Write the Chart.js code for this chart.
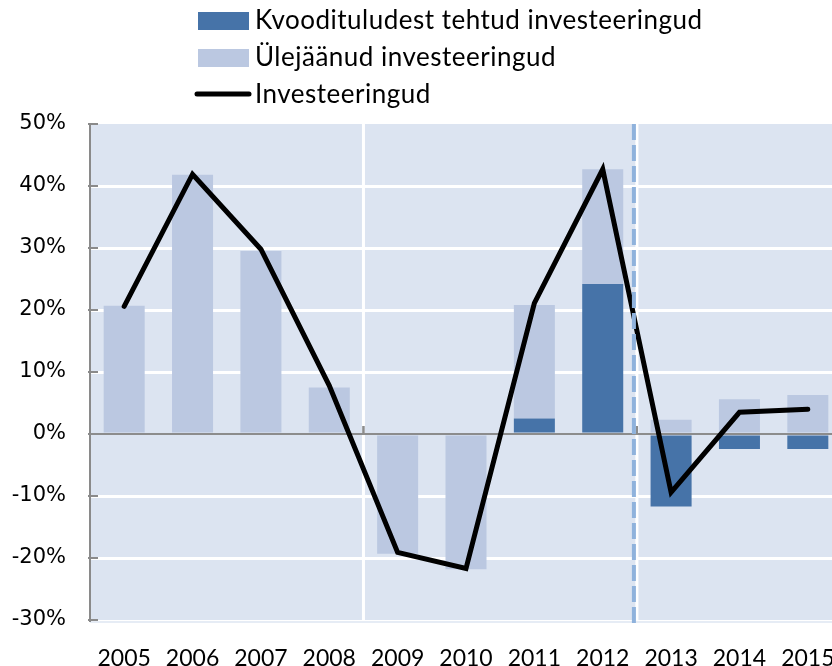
<!DOCTYPE html>
<html>
<head>
<meta charset="utf-8">
<script src="https://cdn.jsdelivr.net/npm/chart.js@4.4.1/dist/chart.umd.min.js"></script>
<style>
  html, body { margin: 0; padding: 0; background: #fff; overflow: hidden; }
  #wrap { width: 832px; height: 666px; overflow: hidden; position: relative; }
  #chart { position: absolute; left: 0; top: 0; }
</style>
</head>
<body>
<div id="wrap"><canvas id="chart" width="842" height="666"></canvas></div>
<script>
// data (percent)
var years = ['2005', '2006', '2007', '2008', '2009', '2010', '2011', '2012', '2013', '2014', '2015'];
var quotaInvest = [null, null, null, null, null, null, 2.5, 24.2, -11.7, -2.4, -2.4];
var otherInvest = [20.7, 41.8, 29.5, 7.5, -19.3, -21.8, 18.3, 18.5, 2.3, 5.6, 6.3];
var totalInvest = [20.6, 41.9, 29.8, 7.8, -19.1, -21.7, 21.1, 42.7, -9.4, 3.5, 4.0];
var yTicks = [-30, -20, -10, 0, 10, 20, 30, 40, 50];
var labels = ['Kvoodituludest tehtud investeeringud', 'Ülejäänud investeeringud', 'Investeeringud'];

var darkBlue = '#4673a8';
var lightBlue = '#bbc8e1';
var plotBg = '#dce4f1';

var decor = {
    id: 'decor',
    beforeDraw: function (chart) {
        var a = chart.chartArea, ctx = chart.ctx;
        ctx.save();
        ctx.fillStyle = plotBg;
        ctx.fillRect(a.left, a.top, a.right - a.left, a.bottom - a.top);
        // thin light line under the plot
        ctx.fillStyle = '#e6ecf5';
        ctx.fillRect(a.left, a.bottom + 1, a.right - a.left, 2);
        ctx.restore();
    },
    beforeDatasetsDraw: function (chart) {
        var ctx = chart.ctx, a = chart.chartArea, x = chart.scales.x, y = chart.scales.y;
        ctx.save();
        // white separators every 4 categories
        ctx.strokeStyle = '#ffffff';
        ctx.lineWidth = 3;
        [4, 8].forEach(function (i) {
            var px = x.getPixelForValue(i - 0.5);
            ctx.beginPath();
            ctx.moveTo(px, a.top);
            ctx.lineTo(px, a.bottom);
            ctx.stroke();
        });
        // inner tick marks on the value axis
        ctx.strokeStyle = '#8a8a8a';
        ctx.lineWidth = 2;
        yTicks.forEach(function (v) {
            var py = y.getPixelForValue(v);
            ctx.beginPath();
            ctx.moveTo(a.left - 2, py);
            ctx.lineTo(a.left + 8, py);
            ctx.stroke();
        });
        ctx.restore();
    },
    afterDatasetDraw: function (chart, args) {
        if (args.meta.type !== 'bar') return;
        var ctx = chart.ctx, a = chart.chartArea, x = chart.scales.x, y = chart.scales.y;
        var py = y.getPixelForValue(0);
        ctx.save();
        ctx.strokeStyle = '#8c8c8c';
        ctx.lineWidth = 2;
        ctx.beginPath();
        ctx.moveTo(a.left, py);
        ctx.lineTo(a.right, py);
        ctx.stroke();
        [4, 8].forEach(function (i) {
            var px = x.getPixelForValue(i - 0.5);
            ctx.beginPath();
            ctx.moveTo(px, py);
            ctx.lineTo(px, py - 8);
            ctx.stroke();
        });
        ctx.restore();
    },
    afterDatasetsDraw: function (chart) {
        var ctx = chart.ctx, a = chart.chartArea, x = chart.scales.x;
        var px = x.getPixelForValue(7.5) - 3;
        ctx.save();
        ctx.strokeStyle = '#8fb2dc';
        ctx.lineWidth = 4;
        ctx.setLineDash([16, 5]);
        ctx.beginPath();
        ctx.moveTo(px, a.top);
        ctx.lineTo(px, a.bottom + 8);
        ctx.stroke();
        ctx.restore();
    },
    afterDraw: function (chart) {
        var ctx = chart.ctx;
        ctx.save();
        ctx.fillStyle = darkBlue;
        ctx.fillRect(198, 12, 51, 18);
        ctx.fillStyle = lightBlue;
        ctx.fillRect(198, 49, 51, 18);
        ctx.strokeStyle = '#000';
        ctx.lineWidth = 5;
        ctx.lineCap = 'round';
        ctx.beginPath();
        ctx.moveTo(197, 94);
        ctx.lineTo(249, 94);
        ctx.stroke();
        ctx.fillStyle = '#000';
        ctx.font = '26px Lato';
        ctx.letterSpacing = '0.5px';
        ctx.textBaseline = 'alphabetic';
        ctx.fillText(labels[0], 255, 29);
        ctx.fillText(labels[1], 255, 66);
        ctx.fillText(labels[2], 255, 103);
        ctx.restore();
    }
};

new Chart(document.getElementById('chart').getContext('2d'), {
    type: 'bar',
    data: {
        labels: years,
        datasets: [{
            type: 'line',
            label: labels[2],
            data: totalInvest,
            borderColor: '#000',
            borderWidth: 5,
            pointRadius: 0,
            tension: 0,
            borderJoinStyle: 'miter',
            borderCapStyle: 'round',
            stack: 'line',
            order: 0
        }, {
            label: labels[0],
            data: quotaInvest,
            backgroundColor: darkBlue,
            stack: 'bars',
            order: 1,
            barPercentage: 0.6,
            categoryPercentage: 1
        }, {
            label: labels[1],
            data: otherInvest,
            backgroundColor: lightBlue,
            stack: 'bars',
            order: 2,
            barPercentage: 0.6,
            categoryPercentage: 1
        }]
    },
    options: {
        responsive: false,
        animation: false,
        layout: { padding: { top: 124, right: 0, bottom: 0, left: 0 } },
        plugins: { legend: { display: false }, tooltip: { enabled: false } },
        scales: {
            x: {
                stacked: true,
                grid: { display: false, drawTicks: true, tickLength: 25 },
                border: { display: false },
                ticks: { color: '#000', font: { family: 'Lato', size: 23 }, padding: 0, maxRotation: 0 },
                afterFit: function (s) { s.height = 46; }
            },
            y: {
                stacked: true,
                min: -30,
                max: 50,
                afterBuildTicks: function (s) { s.ticks = yTicks.map(function (v) { return { value: v }; }); },
                grid: {
                    drawTicks: false,
                    lineWidth: 3,
                    color: function (c) {
                        var v = c.tick ? c.tick.value : null;
                        return (v === 0 || v === 50 || v === -30) ? 'rgba(0,0,0,0)' : '#ffffff';
                    }
                },
                border: { display: true, color: '#8a8a8a', width: 2 },
                ticks: {
                    color: '#000',
                    padding: 24,
                    font: { family: 'DejaVu Sans', size: 21 },
                    callback: function (v) { return v + '%'; }
                },
                afterFit: function (s) { s.width = 90; }
            }
        }
    },
    plugins: [decor]
});
</script>
</body>
</html>
